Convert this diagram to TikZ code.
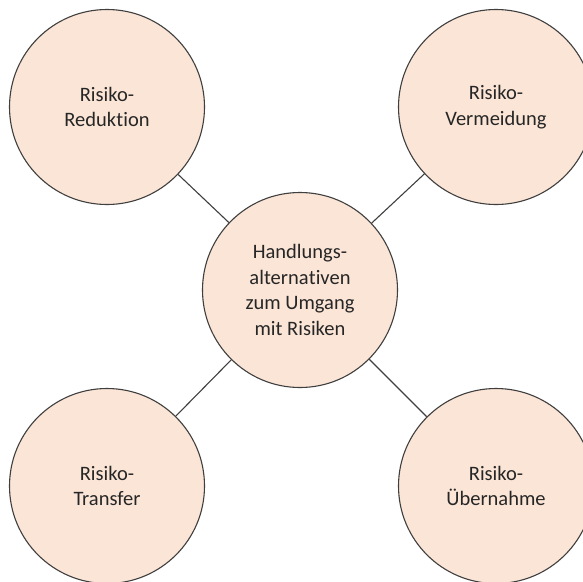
\documentclass[tikz,border=0pt]{standalone}
\usepackage{fontspec}
\setmainfont{Carlito}[RawFeature={-liga;-clig;-dlig;-calt;-hlig}]
\definecolor{peach}{HTML}{FBE5D6}
\definecolor{edge}{HTML}{3F3F3F}
\definecolor{txt}{HTML}{262626}
\begin{document}
\begin{tikzpicture}[x=1pt,y=-1pt,
  bubble/.style={circle, draw=edge, line width=1.1pt, fill=peach, minimum size=195pt, inner sep=0pt,
    align=center, text=txt, font=\fontsize{20.5}{25.5}\selectfont},
  link/.style={draw=edge, line width=1.1pt}]
\path[use as bounding box, clip] (0,0) rectangle (583,581);
\fill[white] (0,0) rectangle (583,581);
\node[bubble] (tl) at (107,107) {Risiko-\\Reduk\kern0.3pt tion};
\node[bubble] (tr) at (496,107) {Risiko-\\Vermeidung};
\node[bubble] (c) at (300,290) {Handlungs-\\alterna\kern0.3pt tiven\\zum Umgang\\mit Risiken};
\node[bubble] (bl) at (107,486) {Risiko-\\Transfer};
\node[bubble] (br) at (496,486) {Risiko-\\Übernahme};
\draw[link] (tl) -- (c);
\draw[link] (tr) -- (c);
\draw[link] (bl) -- (c);
\draw[link] (br) -- (c);
\end{tikzpicture}
\end{document}
